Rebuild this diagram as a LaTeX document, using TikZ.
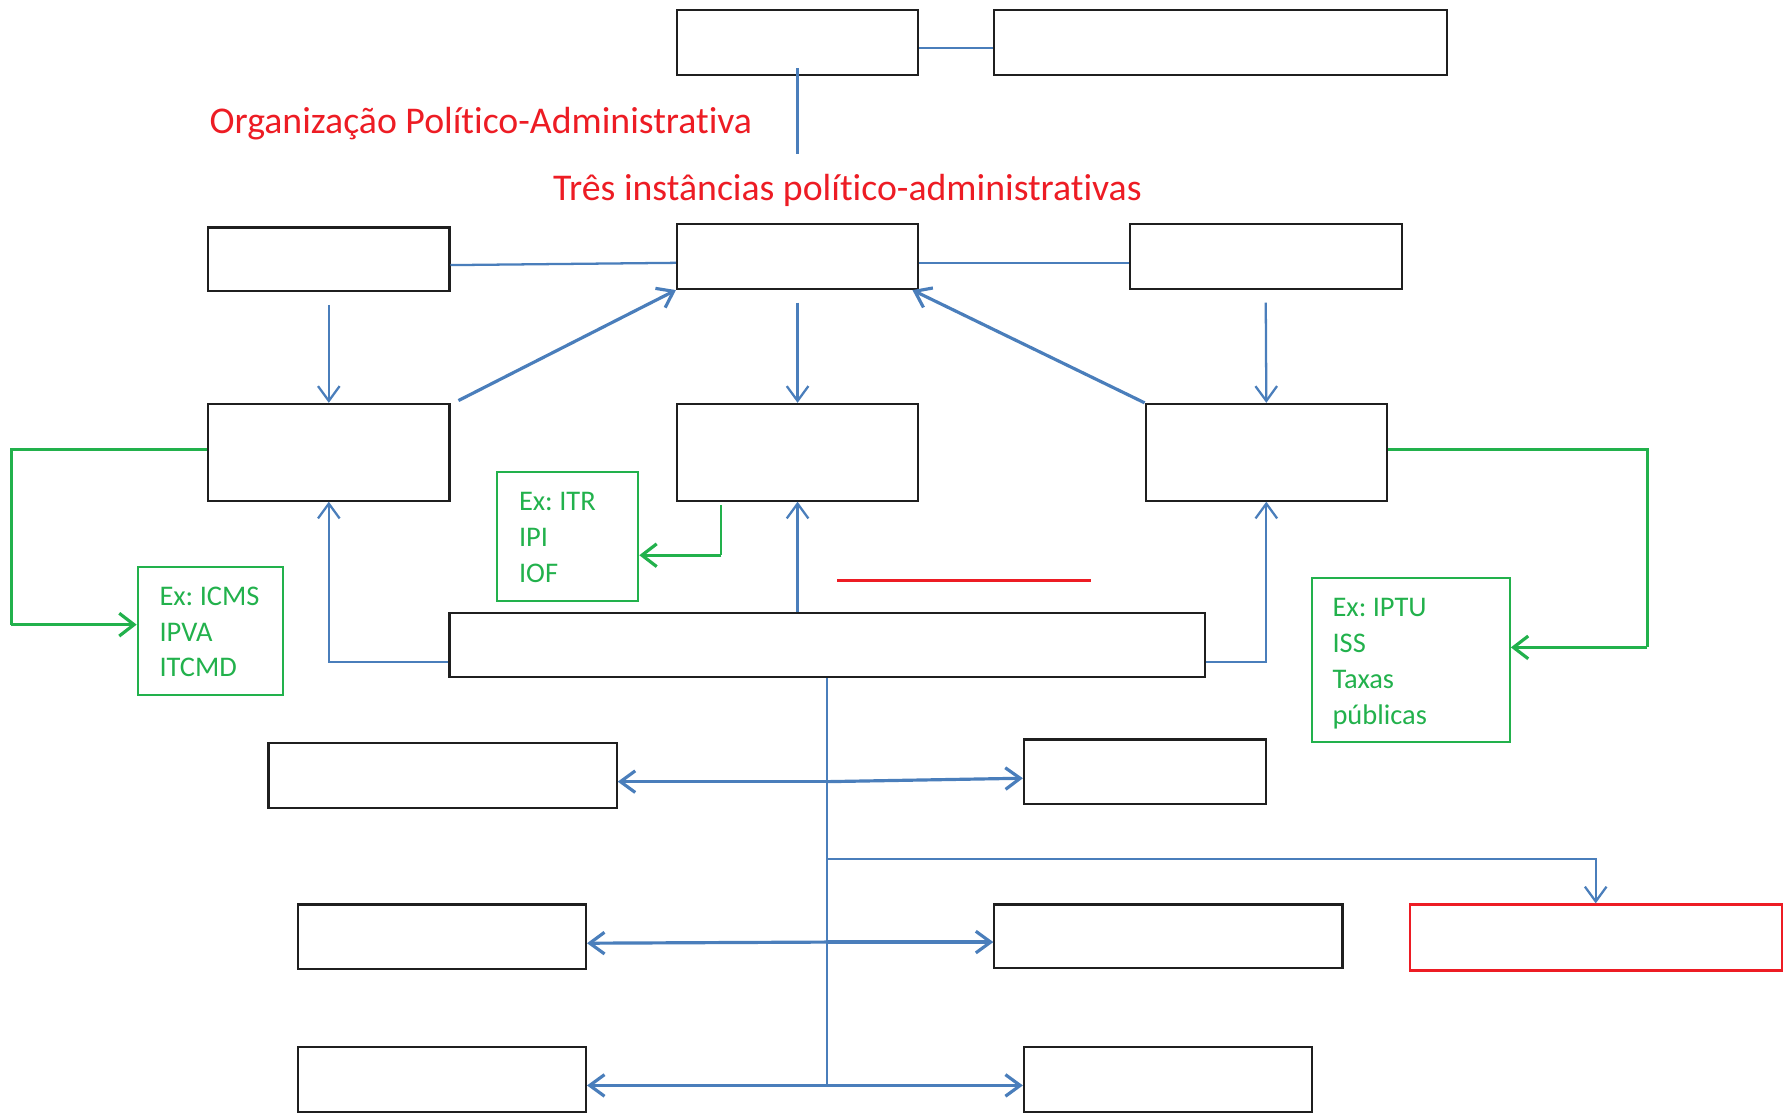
\documentclass[tikz,border=0pt]{standalone}
\usepackage{fontspec}
\setmainfont{Carlito}[Ligatures=NoCommon]
\frenchspacing
\usetikzlibrary{arrows.meta,calc}
\definecolor{lnblue}{RGB}{74,126,187}
\definecolor{lngreen}{RGB}{34,177,76}
\definecolor{lnred}{RGB}{237,28,36}
\begin{document}
\begin{tikzpicture}[x=1pt,y=-1pt,
  box/.style={draw=black!88, line width=1.9pt, inner sep=0pt},
  gbox/.style={draw=lngreen, line width=1.8pt, inner sep=0pt},
  rbox/.style={draw=lnred, line width=2pt, inner sep=0pt},
  bline/.style={draw=lnblue, line width=2pt},
  barrow/.style={draw=lnblue, line width=2pt, -{Straight Barb[length=13pt,width=19pt]}},
  bthick/.style={barrow, line width=2.8pt},
  gline/.style={draw=lngreen, line width=2pt},
  garrow/.style={draw=lngreen, line width=2.8pt, -{Straight Barb[length=13pt,width=20pt]}},
  redline/.style={draw=lnred, line width=3pt},
  rtext/.style={text=lnred, anchor=base west, inner sep=0pt, font=\fontsize{33.2}{40}\selectfont},
  gtext/.style={text=lngreen, anchor=base west, inner sep=0pt, font=\fontsize{25}{31.5}\selectfont}
]
\useasboundingbox (0,0) rectangle (1568,978);

% boxes
\node[box, minimum width=212pt, minimum height=57pt] (t1) at (701,37.5) {};
\node[box, minimum width=398pt, minimum height=57pt] (t2) at (1073,37.5) {};
\node[box, minimum width=212pt, minimum height=56pt] (l2) at (289,228) {};
\node[box, minimum width=212pt, minimum height=57pt] (c2) at (701,225.5) {};
\node[box, minimum width=239pt, minimum height=57pt] (r2) at (1112.5,225.5) {};
\node[box, minimum width=212pt, minimum height=85pt] (l3) at (289,397.5) {};
\node[box, minimum width=212pt, minimum height=85pt] (c3) at (701,397.5) {};
\node[box, minimum width=212pt, minimum height=85pt] (r3) at (1113,397.5) {};
\node[gbox, minimum width=128pt, minimum height=113pt] (g1) at (185,554.5) {};
\node[gbox, minimum width=124pt, minimum height=113pt] (g2) at (499,471.5) {};
\node[gbox, minimum width=174pt, minimum height=144pt] (g3) at (1240,580) {};
\node[box, minimum width=664pt, minimum height=56pt] (m) at (727,567) {};
\node[box, minimum width=306pt, minimum height=57pt] (b1l) at (389,681.5) {};
\node[box, minimum width=213pt, minimum height=57pt] (b1r) at (1006.5,678.5) {};
\node[rbox, minimum width=327pt, minimum height=58pt] (rb) at (1402.5,824) {};
\node[box, minimum width=253pt, minimum height=57pt] (b2l) at (388.5,823.5) {};
\node[box, minimum width=306pt, minimum height=56pt] (b2r) at (1027,823) {};
\node[box, minimum width=253pt, minimum height=57pt] (b3l) at (388.5,948.5) {};
\node[box, minimum width=253pt, minimum height=57pt] (b3r) at (1026.5,948.5) {};

% texts
\node[rtext] (title) at (184,117) {Organização Político-Administrativa};
\node[rtext] (sub) at (486,176) {Três instâncias político-administrativas};
\node[gtext] (g1t) at (140,532) {\begin{tabular}[t]{@{}l@{}}Ex: ICMS\\IPVA\\ITCMD\end{tabular}};
\node[gtext] (g2t) at (456,449) {\begin{tabular}[t]{@{}l@{}}Ex: ITR\\IPI\\IOF\end{tabular}};
\node[gtext] (g3t) at (1171,542) {\begin{tabular}[t]{@{}l@{}}Ex: IPTU\\ISS\\Taxas\\públicas\end{tabular}};

% free coordinates
\coordinate (tdrop) at (701,135);
\coordinate (gl) at (10,549);
\coordinate (gc) at (634,488);
\coordinate (gr) at (1448,569);
\coordinate (tb) at (727,954);
\coordinate (j1) at (727,687);
\coordinate (j2) at (727,755);
\coordinate (j3) at (727,828);
\coordinate (rl1) at (736,510);
\coordinate (rl2) at (959,510);

% top connectors
\draw[bline] (t1.east |- 0,42) -- (t2.west |- 0,42);
\draw[bline] (t1.south |- 0,60) -- (tdrop);
\draw[bline] (l2.east |- 0,233) -- (c2.west |- 0,231);
\draw[bline] (c2.east |- 0,231) -- (r2.west |- 0,231);
\draw[barrow] ([yshift=-11pt]l2.south) -- (l3.north);
\draw[barrow] ([yshift=-11pt]c2.south) -- (c3.north);
\draw[barrow] ([yshift=-11pt]r2.south) -- (r3.north);
\draw[bthick] ([xshift=7pt,yshift=2pt]l3.north east) -- (c2.south west);
\draw[bthick] (r3.north west) -- ([xshift=-6pt]c2.south east);

% green connectors
\draw[gline] (l3.west |- 0,395) -| (gl);
\draw[garrow] (gl) -- (g1.west |- gl);
\draw[gline] ($(c3.south -| gc)+(0,3)$) -- (gc);
\draw[garrow] (gc) -- (g2.east |- gc);
\draw[gline] (r3.east |- 0,395) -| (gr);
\draw[garrow] (gr) -- (g3.east |- gr);

% from the wide box
\draw[barrow] (m.west |- 0,582) -| (l3.south);
\draw[barrow] (c3.south |- m.north) -- (c3.south);
\draw[barrow] (m.east |- 0,582) -| (r3.south);

% trunk and branches
\draw[bline] (m.south) -- (tb);
\draw[bthick] (j1) -- (b1l.east |- j1);
\draw[bthick] (j1) -- (b1r.west |- 0,684);
\draw[barrow] (j2) -| (rb.north);
\draw[bthick] (j3) -- (b2l.east |- 0,829);
\draw[bthick] (j3) -- (b2r.west |- j3);
\draw[bthick] (tb) -- (b3l.east |- tb);
\draw[bthick] (tb) -- (b3r.west |- tb);

% red line
\draw[redline] (rl1) -- (rl2);
\end{tikzpicture}
\end{document}
